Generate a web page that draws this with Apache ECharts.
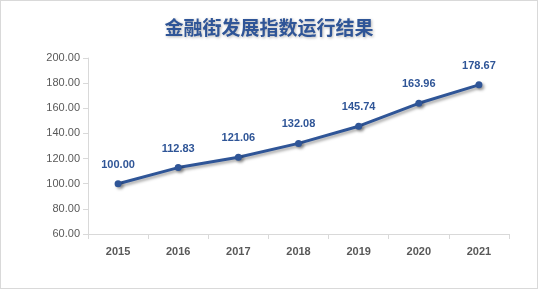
<!DOCTYPE html>
<html>
<head>
<meta charset="utf-8">
<script src="https://cdn.jsdelivr.net/npm/echarts@6/dist/echarts.min.js"></script>
<style>
  html, body { margin: 0; padding: 0; background: #fff; }
  #chart { width: 536px; height: 287px; border: 1px solid #d9d9d9; }
</style>
</head>
<body>
<div id="chart"></div>
<script>
    // 金融街发展指数
    var years = ['2015', '2016', '2017', '2018', '2019', '2020', '2021']
    var indexValues = [100.00, 112.83, 121.06, 132.08, 145.74, 163.96, 178.67]

    var dom = echarts.init(document.getElementById('chart'))
    var option = {
        animation: false,
        title: {
            text: '金融街发展指数运行结果',
            left: 'center',
            top: 12,
            textStyle: {
                fontFamily: 'Noto Sans CJK SC',
                fontSize: 19,
                fontWeight: 'bold',
                color: '#2F5597',
                textShadowColor: 'rgba(0,0,0,0.3)',
                textShadowBlur: 3,
                textShadowOffsetX: 1,
                textShadowOffsetY: 1
            }
        },
        grid: {left: 87, right: 28, top: 57, bottom: 54},
        xAxis: [{
            type: 'category',
            data: years,
            axisLine: {lineStyle: {color: '#d9d9d9'}},
            axisTick: {show: true, length: 5, lineStyle: {color: '#d9d9d9'}},
            axisLabel: {color: '#595959', fontSize: 11, fontWeight: 'bold', margin: 12, fontFamily: 'Liberation Sans'}
        }],
        yAxis: [{
            type: 'value',
            min: 60,
            max: 200,
            interval: 20,
            axisLine: {show: true, lineStyle: {color: '#d9d9d9'}},
            axisTick: {show: true, length: 5, lineStyle: {color: '#d9d9d9'}},
            splitLine: {show: false},
            axisLabel: {
                color: '#595959', fontSize: 11, margin: 8, fontFamily: 'Liberation Sans',
                formatter: function (v) { return v.toFixed(2) }
            }
        }],
        series: [{
            name: '发展指数',
            type: 'line',
            data: indexValues,
            symbol: 'circle',
            symbolSize: 7,
            lineStyle: {
                width: 3,
                color: '#2F5597',
                shadowColor: 'rgba(0,0,0,0.35)',
                shadowBlur: 3,
                shadowOffsetX: 2,
                shadowOffsetY: 2
            },
            itemStyle: {
                color: '#2F5597',
                shadowColor: 'rgba(0,0,0,0.35)',
                shadowBlur: 3,
                shadowOffsetX: 2,
                shadowOffsetY: 2
            },
            label: {
                show: true,
                position: 'top',
                distance: 10,
                color: '#2F5597',
                fontSize: 11,
                fontWeight: 'bold',
                fontFamily: 'Liberation Sans',
                formatter: function (p) { return p.value.toFixed(2) }
            }
        }]
    }
    dom.setOption(option)
</script>
</body>
</html>
